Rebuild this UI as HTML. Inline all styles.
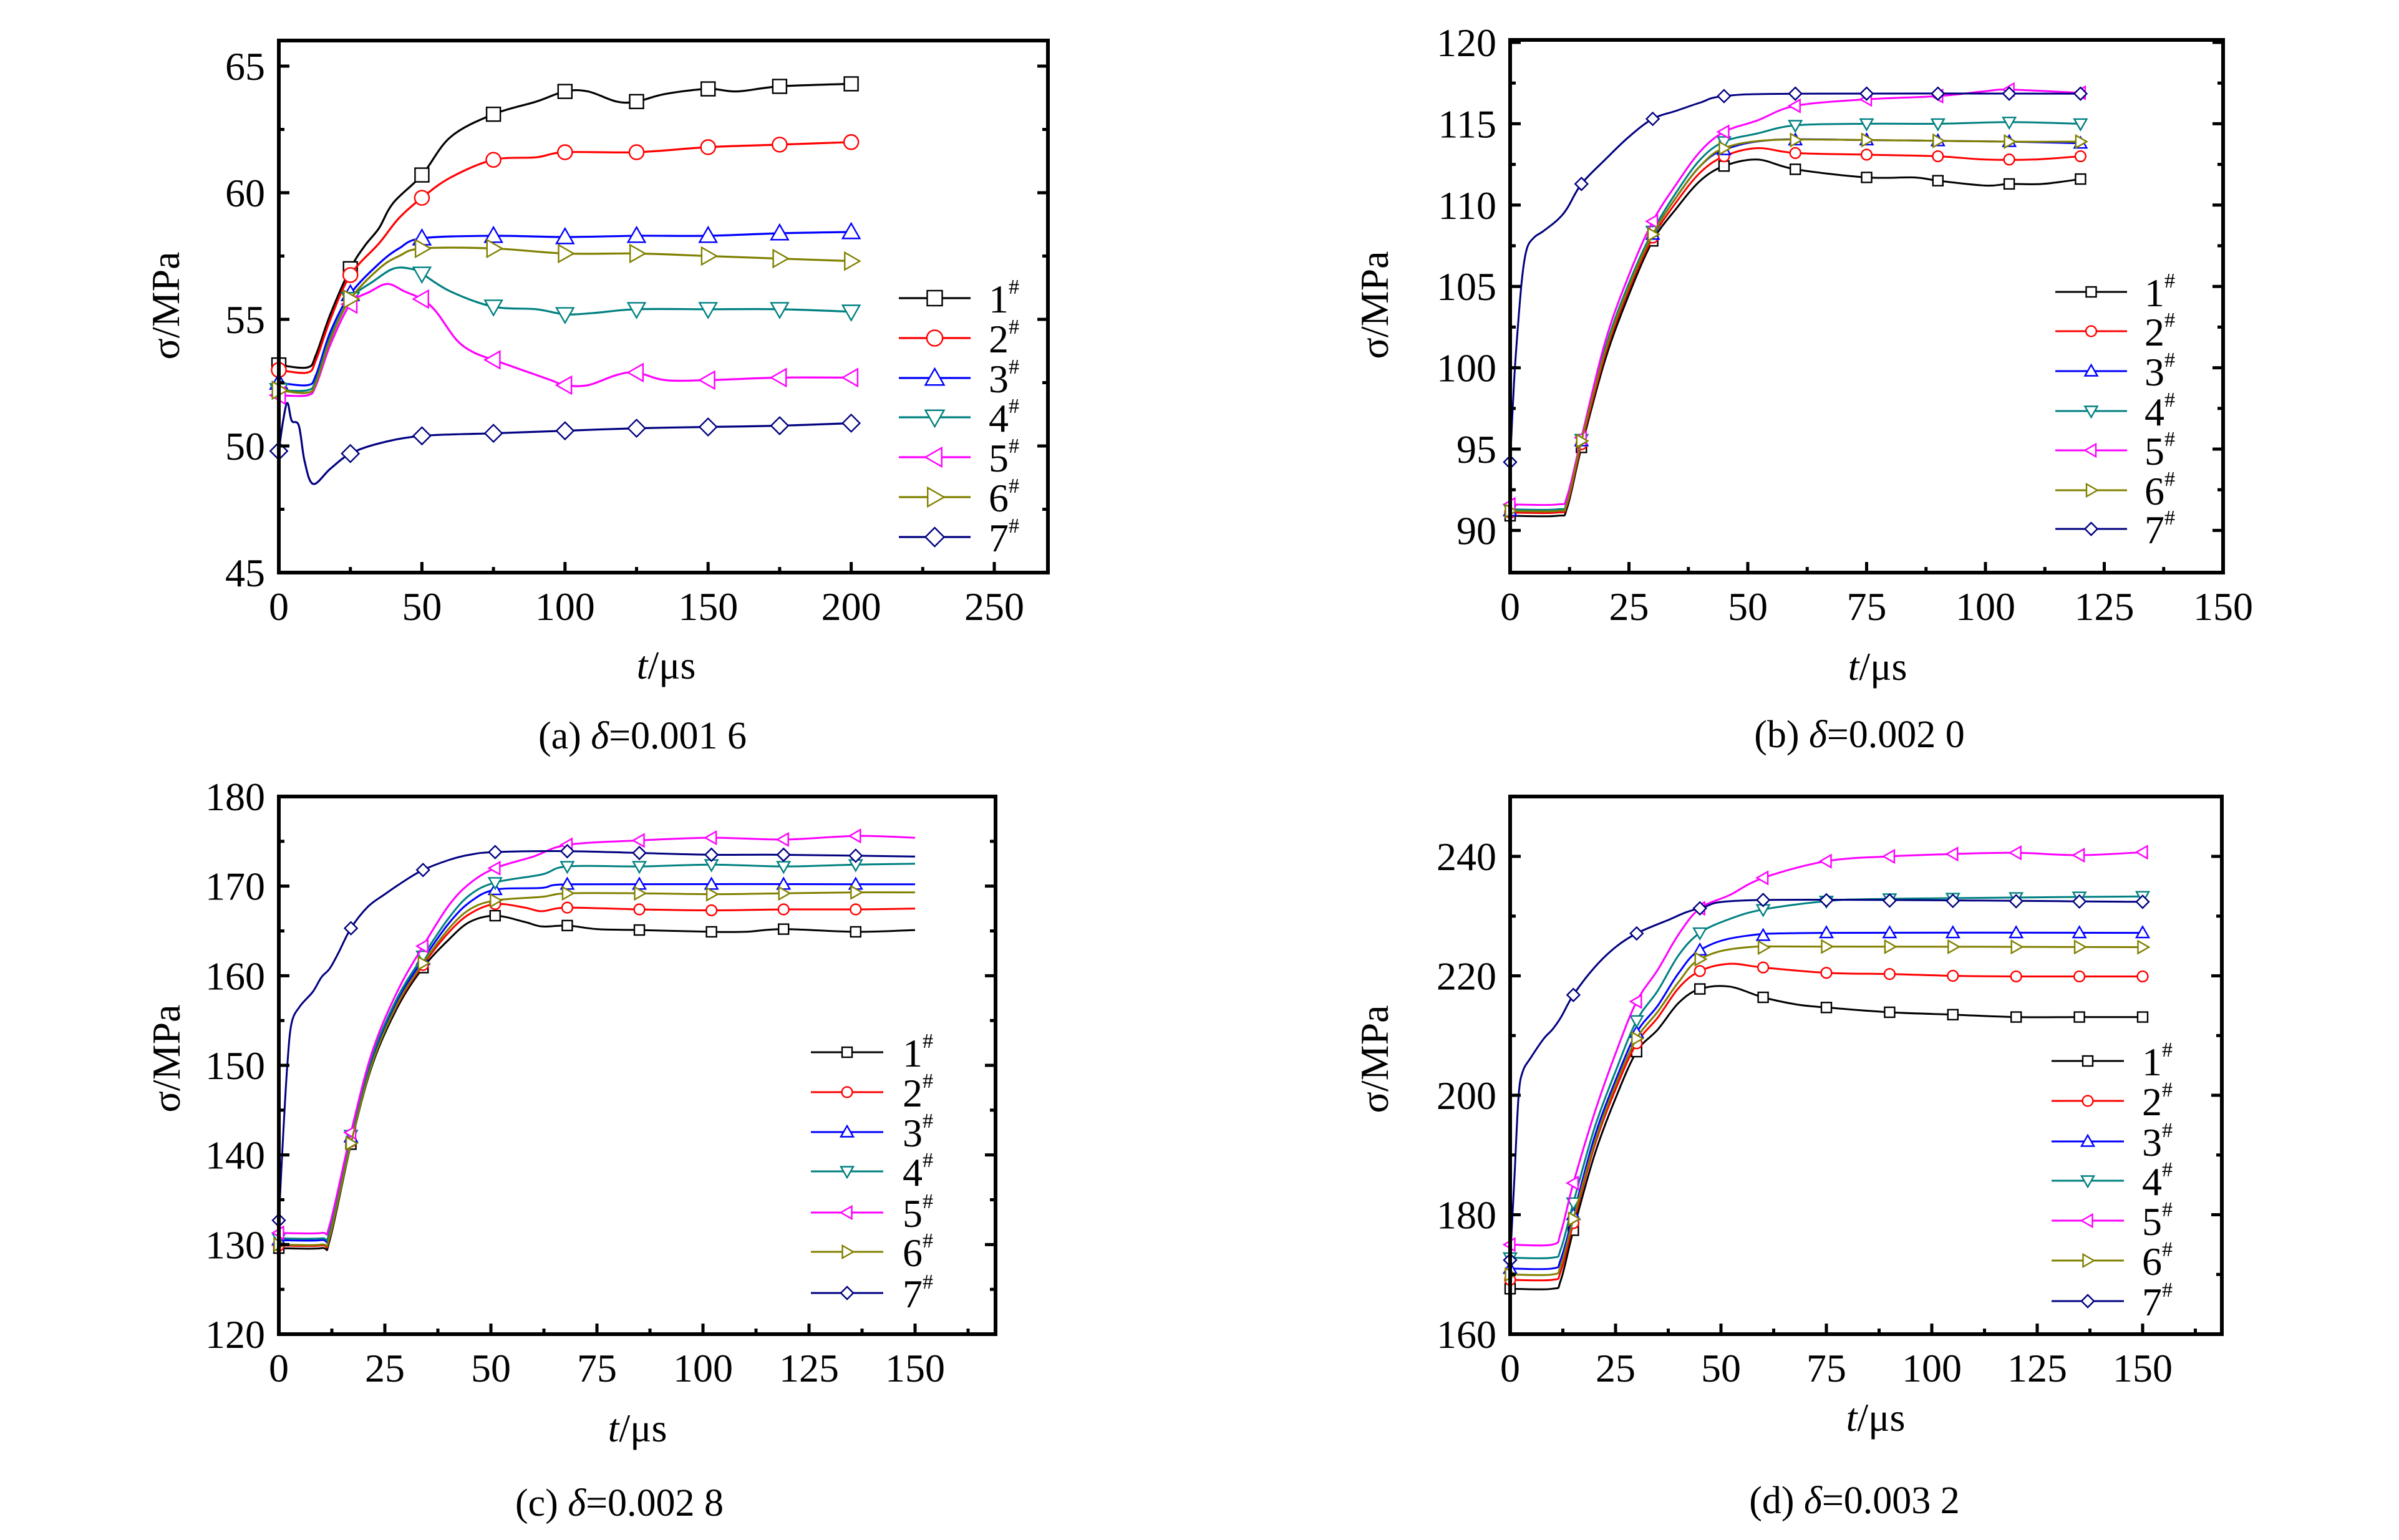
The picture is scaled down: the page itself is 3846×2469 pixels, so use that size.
<!DOCTYPE html>
<html><head><meta charset="utf-8">
<style>
html,body{margin:0;padding:0;background:#fff;}
svg{display:block;}
text{font-family:"Liberation Serif",serif;fill:#000;}
</style></head>
<body>
<svg id="fig" width="3846" height="2469" viewBox="0 0 3846 2469" xmlns="http://www.w3.org/2000/svg"></svg>
<script>
// ---- data ----
const seriesNames = ["1","2","3","4","5","6","7"];
const seriesColors = ["#000000","#ff0000","#0000ff","#008080","#ff00ff","#808000","#000080"];
const markerShapes = ["square","circle","up","down","left","right","diamond"];

const aMarkerTimes = [0,25,50,75,100,125,150,175,200];
const a1 = [[0,53.2],[10,53.1],[13,53.6],[18,55.2],[25,57.0],[30,57.9],[35,58.6],[40,59.6],[50,60.7],[60,62.2],[75,63.1],[90,63.6],[100,64.0],[108,64.0],[118,63.6],[125,63.6],[135,63.9],[150,64.1],[160,64.0],[175,64.2],[200,64.3]];
const a2 = [[0,53.0],[10,52.9],[13,53.4],[18,55.0],[25,56.75],[35,58.0],[42,59.0],[50,59.8],[60,60.6],[75,61.3],[90,61.4],[100,61.6],[125,61.6],[150,61.8],[175,61.9],[200,62.0]];
const a3 = [[0,52.5],[10,52.4],[13,52.8],[18,54.5],[25,56.0],[35,57.2],[42,57.8],[50,58.2],[75,58.3],[100,58.25],[125,58.3],[150,58.3],[175,58.4],[200,58.45]];
const a4 = [[0,52.2],[10,52.2],[13,52.6],[18,54.3],[25,55.8],[33,56.5],[40,57.0],[46,57.0],[50,56.8],[60,56.1],[75,55.5],[90,55.4],[100,55.2],[110,55.25],[125,55.4],[150,55.4],[175,55.4],[200,55.3]];
const a5 = [[0,52.0],[10,52.0],[13,52.4],[18,54.0],[25,55.6],[32,56.1],[38,56.4],[44,56.1],[50,55.8],[55,55.3],[62,54.2],[68,53.7],[75,53.4],[85,53.0],[95,52.6],[100,52.4],[108,52.4],[118,52.8],[125,52.9],[135,52.6],[150,52.6],[175,52.7],[200,52.7]];
const a6 = [[0,52.2],[10,52.1],[13,52.5],[18,54.2],[25,55.8],[35,57.0],[42,57.5],[50,57.8],[75,57.8],[100,57.6],[125,57.6],[150,57.5],[175,57.4],[200,57.3]];
const a7 = [[0,49.8],[1.5,51.0],[3,51.7],[4.5,51.0],[7,50.8],[9,49.4],[12,48.5],[18,49.1],[25,49.7],[35,50.1],[50,50.4],[75,50.5],[100,50.6],[125,50.7],[150,50.75],[175,50.8],[200,50.9]];

const bMarkerTimes = [0,15,30,45,60,75,90,105,120];
const b1 = [[0,90.9],[10,90.9],[12,91.4],[15,95.1],[20,100.5],[25,104.5],[30,107.8],[35,109.8],[40,111.5],[45,112.4],[52,112.8],[60,112.2],[75,111.7],[85,111.7],[90,111.5],[100,111.2],[105,111.3],[112,111.3],[120,111.6]];
const b2 = [[0,91.1],[10,91.1],[12,91.6],[15,95.3],[20,100.8],[25,104.8],[30,108.0],[35,110.2],[40,112.0],[45,113.0],[52,113.5],[60,113.2],[75,113.1],[90,113.0],[100,112.8],[110,112.8],[120,113.0]];
const b3 = [[0,91.2],[10,91.2],[12,91.7],[15,95.5],[20,101.0],[25,105.0],[30,108.2],[35,110.5],[40,112.4],[45,113.4],[55,114.0],[75,114.0],[90,113.95],[105,113.9],[120,113.8]];
const b4 = [[0,91.3],[10,91.3],[12,91.8],[15,95.6],[20,101.2],[25,105.2],[30,108.4],[35,110.8],[40,112.8],[45,113.9],[52,114.4],[60,114.9],[75,115.0],[90,115.0],[105,115.1],[120,115.0]];
const b5 = [[0,91.6],[10,91.6],[12,92.1],[15,95.7],[20,101.6],[25,105.7],[30,109.0],[35,111.3],[40,113.3],[45,114.5],[52,115.2],[60,116.1],[75,116.5],[90,116.7],[100,117.0],[105,117.1],[120,116.9]];
const b6 = [[0,91.2],[10,91.2],[12,91.7],[15,95.5],[20,101.0],[25,105.0],[30,108.2],[35,110.5],[40,112.4],[45,113.5],[55,114.0],[75,114.0],[90,113.95],[105,113.9],[120,113.9]];
const b7 = [[0,94.2],[0.8,99],[1.5,102],[2.5,105.5],[3.5,107.3],[5,108.0],[7,108.4],[10,109.1],[12,109.8],[15,111.3],[20,112.8],[25,114.2],[30,115.3],[35,115.8],[40,116.3],[45,116.7],[60,116.85],[120,116.85]];

const cMarkerTimes = [0,17,34,51,68,85,102,119,136];
const c1 = [[0,129.6],[10,129.6],[12,130.5],[17,141.2],[22,150],[28,156.5],[34,160.9],[40,164.0],[45,166.0],[51,166.7],[58,166.0],[62,165.5],[68,165.6],[75,165.2],[85,165.1],[102,164.9],[110,164.9],[119,165.2],[136,164.9],[150,165.1]];
const c2 = [[0,129.9],[10,129.9],[12,130.8],[17,141.5],[22,150.3],[28,156.8],[34,161.2],[40,164.8],[45,166.9],[51,168.0],[58,167.6],[62,167.2],[68,167.6],[85,167.4],[102,167.3],[119,167.4],[136,167.4],[150,167.5]];
const c3 = [[0,130.5],[10,130.5],[12,131.3],[17,142.0],[22,150.8],[28,157.3],[34,161.8],[40,165.8],[45,168.2],[51,169.6],[62,169.8],[68,170.2],[150,170.2]];
const c4 = [[0,130.7],[10,130.7],[12,131.5],[17,142.2],[22,151],[28,157.6],[34,162.2],[40,166.4],[45,169.0],[51,170.4],[62,171.3],[68,172.2],[85,172.2],[102,172.4],[119,172.2],[136,172.4],[150,172.5]];
const c5 = [[0,131.3],[10,131.3],[12,132.2],[17,142.5],[22,151.5],[28,158.3],[34,163.3],[40,167.8],[45,170.3],[51,172.0],[60,173.3],[68,174.6],[85,175.1],[102,175.4],[119,175.2],[136,175.6],[150,175.4]];
const c6 = [[0,130.0],[10,130.0],[12,130.9],[17,141.3],[22,150.2],[28,156.9],[34,161.4],[40,165.2],[45,167.4],[51,168.4],[62,168.8],[68,169.2],[85,169.2],[102,169.1],[119,169.2],[136,169.3],[150,169.3]];
const c7 = [[0,132.7],[1,142],[2,150],[3,154.7],[5,156.6],[8,158.2],[10,159.8],[12,160.8],[14,162.5],[17,165.3],[21,167.7],[25,169.1],[30,170.7],[34,171.8],[40,172.9],[45,173.5],[51,173.8],[68,173.9],[85,173.7],[102,173.5],[119,173.5],[150,173.3]];

const dMarkerTimes = [0,15,30,45,60,75,90,105,120,135,150];
const d1 = [[0,167.6],[10,167.6],[12,169],[15,177.4],[20,190],[25,199.5],[30,207.3],[35,211],[40,215.5],[45,217.8],[52,218.2],[60,216.4],[68,215.2],[75,214.7],[90,213.9],[105,213.5],[120,213.1],[135,213.1],[150,213.1]];
const d2 = [[0,169.1],[10,169.1],[12,170.5],[15,178.6],[20,191.5],[25,201],[30,208.7],[35,213],[40,218.0],[45,220.8],[52,222.0],[60,221.4],[75,220.5],[90,220.3],[105,220.0],[120,219.9],[150,219.9]];
const d3 = [[0,171.0],[10,171.0],[12,172.5],[15,180],[20,193],[25,202.5],[30,210.5],[35,215],[40,220.5],[45,224.3],[55,226.6],[75,227.2],[150,227.2]];
const d4 = [[0,172.8],[10,172.8],[12,174.2],[15,182],[20,194.5],[25,204],[30,212.5],[35,217.5],[40,223.5],[45,227.2],[52,229.5],[60,231.1],[75,232.5],[90,232.9],[150,233.3]];
const d5 = [[0,175.0],[10,175.0],[12,177],[15,185.3],[20,197],[25,207],[30,215.7],[35,221],[40,227],[45,231.3],[52,233.5],[60,236.4],[75,239.2],[90,240.0],[105,240.4],[120,240.6],[135,240.2],[150,240.7]];
const d6 = [[0,170.0],[10,170.0],[12,171.5],[15,179.3],[20,192],[25,201.8],[30,209.5],[35,214],[40,219],[45,222.8],[55,224.7],[75,224.9],[150,224.8]];
const d7 = [[0,172.4],[1,186],[2,199.8],[3,204],[5,206.4],[8,209.5],[10,211],[12,213],[15,216.8],[20,221.4],[25,224.8],[30,227.1],[37,229.2],[45,231.3],[60,232.7],[150,232.4]];

const aXTicks = [0,50,100,150,200,250];
const aYTicks = [45,50,55,60,65];
const bXTicks = [0,25,50,75,100,125,150];
const bYTicks = [90,95,100,105,110,115,120];
const cXTicks = [0,25,50,75,100,125,150];
const cYTicks = [120,130,140,150,160,170,180];
const dXTicks = [0,25,50,75,100,125,150];
const dYTicks = [160,180,200,220,240];

// ---- layout ----
const NS = "http://www.w3.org/2000/svg";
const svg = document.getElementById("fig");
function mk(tag, attrs, parent){
  const e = document.createElementNS(NS, tag);
  for (const k in attrs) e.setAttribute(k, attrs[k]);
  (parent||svg).appendChild(e);
  return e;
}

const panels = [
 {id:"a", L:447, R:1680, T:65, B:918, x0v:0, x0p:447, xpu:229.4/50, y0v:45, y0p:918, ypu:(918-106)/20,
  xmax:268.75, xTicks:aXTicks, xMinor:25, yTicks:aYTicks, yMinor:2.5, series:[a1,a2,a3,a4,a5,a6,a7], mt:aMarkerTimes,
  ms:11, lw:3.2, leg:{x1:1441,x2:1556,tx:1585,rows:[478,542,606,669,733,797,861], ms:12},
  ytitle:[265,490], xtitle:[1068,1088], cap:[1030,1200], capText:["(a) ","0.001 6"]},
 {id:"b", L:2421, R:3564, T:64, B:918, x0v:0, x0p:2421, xpu:190.5/25, y0v:120, y0p:68, ypu:26.08,
  xmax:150, xTicks:bXTicks, xMinor:12.5, yTicks:bYTicks, yMinor:2.5, series:[b1,b2,b3,b4,b5,b6,b7], mt:bMarkerTimes,
  ms:8, lw:3, leg:{x1:3295,x2:3410,tx:3438,rows:[468,531,595,659,722,786,848], ms:8},
  ytitle:[2203,489], xtitle:[3010,1090], cap:[2981,1198], capText:["(b) ","0.002 0"]},
 {id:"c", L:447, R:1596, T:1277, B:2139, x0v:0, x0p:447, xpu:170/25, y0v:180, y0p:1277, ypu:(2139-1277)/60,
  xmax:169, xTicks:cXTicks, xMinor:12.5, yTicks:cYTicks, yMinor:5, series:[c1,c2,c3,c4,c5,c6,c7], mt:cMarkerTimes,
  ms:8, lw:3, leg:{x1:1300,x2:1416,tx:1447,rows:[1687,1751,1815,1878,1944,2007,2073], ms:8},
  ytitle:[266,1697], xtitle:[1022,2311], cap:[993,2430], capText:["(c) ","0.002 8"]},
 {id:"d", L:2421, R:3562, T:1277, B:2139, x0v:0, x0p:2421, xpu:169/25, y0v:160, y0p:2139, ypu:(2139-1373)/80,
  xmax:168.8, xTicks:dXTicks, xMinor:12.5, yTicks:dYTicks, yMinor:10, series:[d1,d2,d3,d4,d5,d6,d7], mt:dMarkerTimes,
  ms:8, lw:3, leg:{x1:3289,x2:3405,tx:3434,rows:[1701,1765,1830,1893,1957,2021,2086], ms:8},
  ytitle:[2203,1698], xtitle:[3007,2294], cap:[2973,2426], capText:["(d) ","0.003 2"]}
];

function interp(pts, t){
  if (t <= pts[0][0]) return pts[0][1];
  for (let i=1;i<pts.length;i++){
    if (t <= pts[i][0]){
      const [t0,v0]=pts[i-1],[t1,v1]=pts[i];
      return v0 + (v1-v0)*(t-t0)/(t1-t0);
    }
  }
  return pts[pts.length-1][1];
}

function smoothPath(P){
  let d = "M"+P[0][0].toFixed(1)+","+P[0][1].toFixed(1);
  for (let i=0;i<P.length-1;i++){
    const p0=P[Math.max(0,i-1)], p1=P[i], p2=P[i+1], p3=P[Math.min(P.length-1,i+2)];
    let c1x=p1[0]+(p2[0]-p0[0])/6, c1y=p1[1]+(p2[1]-p0[1])/6;
    let c2x=p2[0]-(p3[0]-p1[0])/6, c2y=p2[1]-(p3[1]-p1[1])/6;
    c1x=Math.min(Math.max(c1x,p1[0]),p2[0]); c2x=Math.min(Math.max(c2x,p1[0]),p2[0]);
    d += " C"+c1x.toFixed(1)+","+c1y.toFixed(1)+" "+c2x.toFixed(1)+","+c2y.toFixed(1)+" "+p2[0].toFixed(1)+","+p2[1].toFixed(1);
  }
  return d;
}

function marker(shape, x, y, s, color, parent){
  const st = {fill:"#fff", stroke:color, "stroke-width":2.4};
  let e;
  if (shape==="square") e = mk("rect", Object.assign({x:x-s,y:y-s,width:2*s,height:2*s}, st), parent);
  else if (shape==="circle") e = mk("circle", Object.assign({cx:x,cy:y,r:s*1.05}, st), parent);
  else {
    let pts;
    const k = s*1.25;
    if (shape==="up") pts=[[x,y-k],[x+k,y+k*0.75],[x-k,y+k*0.75]];
    else if (shape==="down") pts=[[x,y+k],[x+k,y-k*0.75],[x-k,y-k*0.75]];
    else if (shape==="left") pts=[[x-k,y],[x+k*0.75,y-k],[x+k*0.75,y+k]];
    else if (shape==="right") pts=[[x+k,y],[x-k*0.75,y-k],[x-k*0.75,y+k]];
    else pts=[[x,y-k],[x+k,y],[x,y+k],[x-k,y]];
    e = mk("polygon", Object.assign({points:pts.map(p=>p.join(",")).join(" ")}, st), parent);
  }
  return e;
}

panels.forEach(p=>{
  const g = mk("g", {});
  
  
  const X = v => p.x0p + (v - p.x0v)*p.xpu;
  const Y = v => p.y0p - (v - p.y0v)*p.ypu;

  p.series.forEach((s, i)=>{
    const sg = mk("g", {}, g);
    
    
    const P = s.map(q=>[X(q[0]), Y(q[1])]);
    const path = mk("path", {d:smoothPath(P), fill:"none", stroke:seriesColors[i], "stroke-width":p.lw, "stroke-linejoin":"round"}, sg);
    
    
    const tEnd = s[s.length-1][0];
    p.mt.forEach(t=>{
      if (t>tEnd) return;
      const m = marker(markerShapes[i], X(t), Y(interp(s,t)), p.ms, seriesColors[i], sg);
      
      
    });
  });

  const fr = mk("rect", {x:p.L, y:p.T, width:p.R-p.L, height:p.B-p.T, fill:"none", stroke:"#000", "stroke-width":6}, g);
  
  

  const xmaj = p.xTicks[1]-p.xTicks[0];
  for (let v=0; v<=p.xmax+0.01; v+=p.xMinor){
    const isMaj = Math.abs(v/xmaj - Math.round(v/xmaj))<1e-6;
    const len = isMaj?17:9;
    const t = mk("line", {x1:X(v), x2:X(v), y1:p.B, y2:p.B-len, stroke:"#000","stroke-width":5}, g);
    
    
  }
  p.xTicks.forEach(v=>{
    const t = mk("text", {x:X(v), y:p.B+76, "font-size":64, "text-anchor":"middle"}, g);
    t.textContent = v;
    
    
  });
  const ymaj = p.yTicks[1]-p.yTicks[0];
  const yLo = p.yTicks[0], yHi = p.yTicks[p.yTicks.length-1];
  for (let v=yLo; v<=yHi+ymaj+0.01; v+=p.yMinor){
    const y = Y(v);
    if (y < p.T+4) continue;
    const isMaj = Math.abs((v-yLo)/ymaj - Math.round((v-yLo)/ymaj))<1e-6;
    const len = isMaj?17:9;
    const t1 = mk("line", {x1:p.L, x2:p.L+len, y1:y, y2:y, stroke:"#000","stroke-width":5}, g);
    
    
    const t2 = mk("line", {x1:p.R, x2:p.R-len, y1:y, y2:y, stroke:"#000","stroke-width":5}, g);
    
    
  }
  p.yTicks.forEach(v=>{
    const t = mk("text", {x:p.L-22, y:Y(v)+22, "font-size":64, "text-anchor":"end"}, g);
    t.textContent = v;
    
    
  });

  const yt = mk("text", {x:0, y:0, "font-size":64, "text-anchor":"middle", transform:"translate("+(p.ytitle[0]+22)+","+p.ytitle[1]+") rotate(-90)"}, g);
  yt.textContent = "σ/MPa";
  
  
  const xt = mk("text", {x:p.xtitle[0], y:p.xtitle[1], "font-size":64, "text-anchor":"middle"}, g);
  
  
  const ti = mk("tspan", {"font-style":"italic"}, xt); ti.textContent = "t";
  const tr = mk("tspan", {}, xt); tr.textContent = "/μs";

  const cp = mk("text", {x:p.cap[0], y:p.cap[1], "font-size":62, "text-anchor":"middle"}, g);
  
  
  const c1s = mk("tspan", {}, cp); c1s.textContent = p.capText[0];
  const c2s = mk("tspan", {"font-style":"italic"}, cp); c2s.textContent = "δ";
  const c3s = mk("tspan", {}, cp); c3s.textContent = "="+p.capText[1];

  const lg = mk("g", {}, g);
  
  
  p.leg.rows.forEach((ry, i)=>{
    const eg = mk("g", {}, lg);
    
    
    mk("line", {x1:p.leg.x1, x2:p.leg.x2, y1:ry, y2:ry, stroke:seriesColors[i], "stroke-width":p.lw}, eg);
    marker(markerShapes[i], (p.leg.x1+p.leg.x2)/2, ry, p.leg.ms, seriesColors[i], eg);
    const lt = mk("text", {x:p.leg.tx, y:ry+23, "font-size":64}, eg);
    const n = mk("tspan", {}, lt); n.textContent = seriesNames[i];
    const sp = mk("tspan", {"font-size":34, dy:-30}, lt); sp.textContent = "#";
  });
});
</script>
</body></html>
